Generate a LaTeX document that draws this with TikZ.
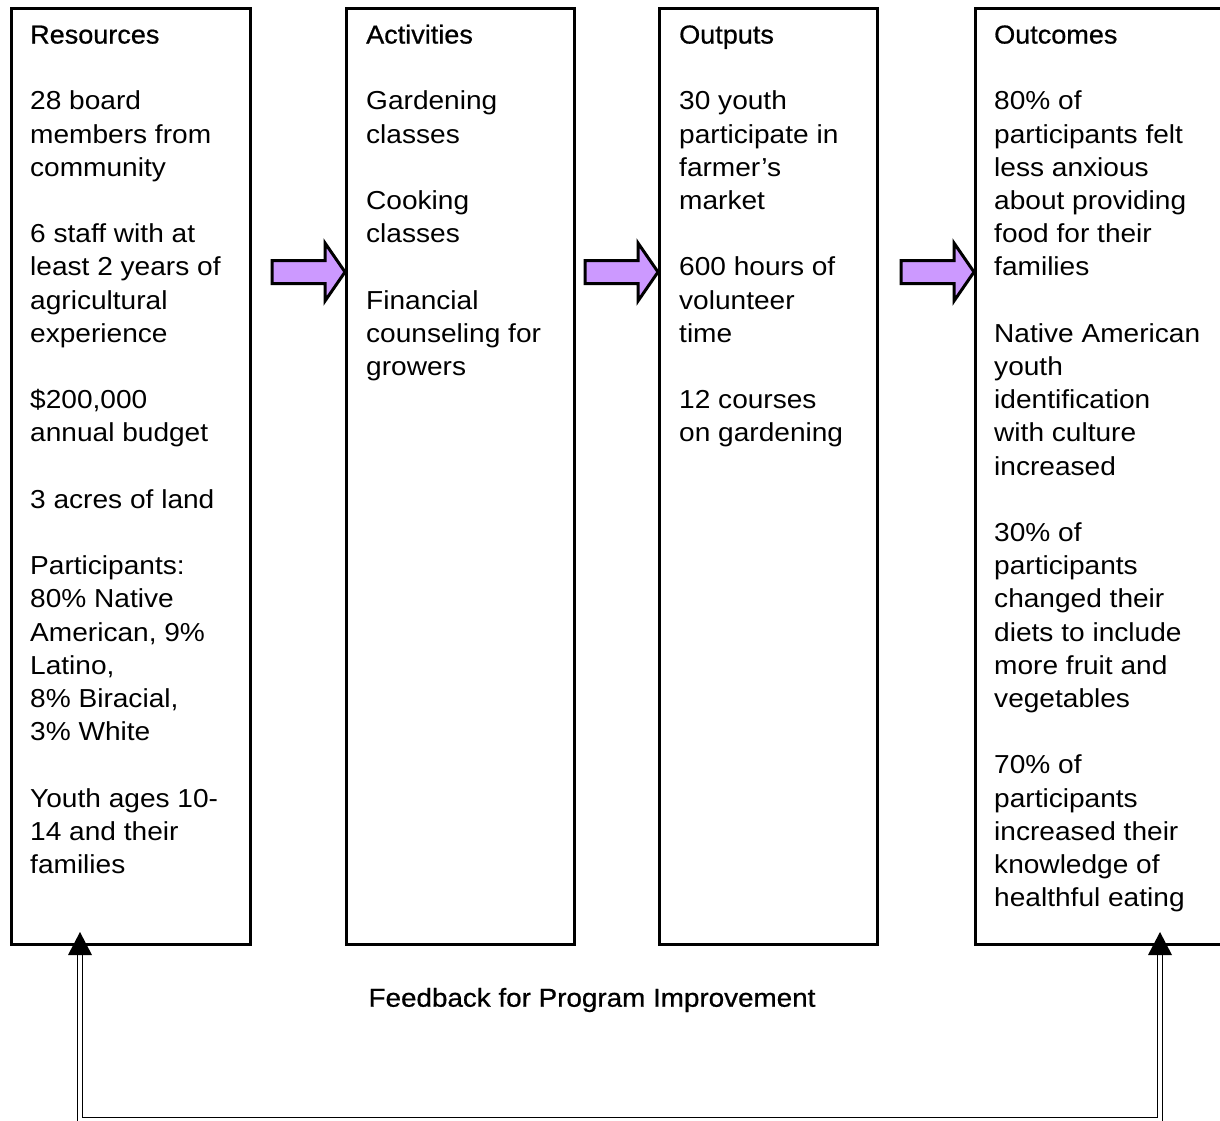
\documentclass[tikz,border=0pt]{standalone}
\usepackage{fontspec}
\setmainfont[FakeStretch=1.08]{Liberation Sans}
\newfontfamily\headfont[FakeStretch=1.04,FakeBold=0.7]{Liberation Sans}
\newfontfamily\labelfont[FakeStretch=1.07,FakeBold=0.7]{Liberation Sans}
\definecolor{arrowpurple}{RGB}{204,153,255}
\begin{document}
\begin{tikzpicture}[x=1pt,y=-1pt,
  box/.style={draw=black, line width=3pt, rectangle, inner sep=0pt, anchor=north west},
  txt/.style={anchor=north west, inner sep=0pt, align=left, font=\fontsize{26}{33.2}\selectfont},
  lbl/.style={inner sep=0pt, font=\labelfont\fontsize{26}{33.2}\selectfont},
  flow/.style={draw=black, line width=3pt, fill=arrowpurple, line join=miter},
  feedback/.style={draw=black, line width=1.5pt, double=white, double distance=3.2pt},
  tiphead/.style={fill=black},
  flowarrow/.pic={\draw[flow] (-73,-11.5) -- (-20,-11.5) -- (-20,-29) -- (0,0) -- (-20,29) -- (-20,11.5) -- (-73,11.5) -- cycle;}
]
\clip (0,0) rectangle (1220,1120);
\fill[white] (0,0) rectangle (1220,1120);

% boxes
\node[box, minimum width=239pt, minimum height=936pt] (res)  at (10,7)  {};
\node[box, minimum width=228pt, minimum height=936pt] (act)  at (345,7) {};
\node[box, minimum width=218pt, minimum height=936pt] (out)  at (658,7) {};
\node[box, minimum width=280pt, minimum height=936pt] (outc) at (974,7) {};

% texts
\node[txt] (restext) at (30,20.1) {\strut{\headfont Resources}\\[33.2pt]
28 board\\ members from\\ community\\[33.2pt]
6 staff with at\\ least 2 years of\\ agricultural\\ experience\\[33.2pt]
\$200,000\\ annual budget\\[33.2pt]
3 acres of land\\[33.2pt]
Participants:\\ 80\% Native\\ American, 9\%\\ Latino,\\ 8\% Biracial,\\ 3\% White\\[33.2pt]
Youth ages 10-\\ 14 and their\\ families};

\node[txt] (acttext) at (366,20.1) {\strut{\headfont Activities}\\[33.2pt]
Gardening\\ classes\\[33.2pt]
Cooking\\ classes\\[33.2pt]
Financial\\ counseling for\\ growers};

\node[txt] (outtext) at (679,20.1) {\strut{\headfont Outputs}\\[33.2pt]
30 youth\\ participate in\\ farmer’s\\ market\\[33.2pt]
600 hours of\\ volunteer\\ time\\[33.2pt]
12 courses\\ on gardening};

\node[txt] (outctext) at (994,20.1) {\strut{\headfont Outcomes}\\[33.2pt]
80\% of\\ participants felt\\ less anxious\\ about providing\\ food for their\\ families\\[33.2pt]
Native American\\ youth\\ identification\\ with culture\\ increased\\[33.2pt]
30\% of\\ participants\\ changed their\\ diets to include\\ more fruit and\\ vegetables\\[33.2pt]
70\% of\\ participants\\ increased their\\ knowledge of\\ healthful eating};

% block arrows between boxes
\pic at (act.west |- 0,272) {flowarrow};
\pic at (out.west |- 0,272) {flowarrow};
\pic at (outc.west |- 0,272) {flowarrow};

% feedback loop
\node[lbl] (fb) at (592,1000) {Feedback for Program Improvement};
\coordinate (fbl) at (80,1120);
\coordinate (fbr) at (1160,1120);
\draw[feedback] (res.south -| fbl) -- (fbl) -- (fbr) -- (outc.south -| fbr);
\fill[tiphead] (res.south -| fbl) ++(0,-14) -- ++(12,23) -- ++(-24,0) -- cycle;
\fill[tiphead] (outc.south -| fbr) ++(0,-14) -- ++(12,23) -- ++(-24,0) -- cycle;
\end{tikzpicture}
\end{document}
